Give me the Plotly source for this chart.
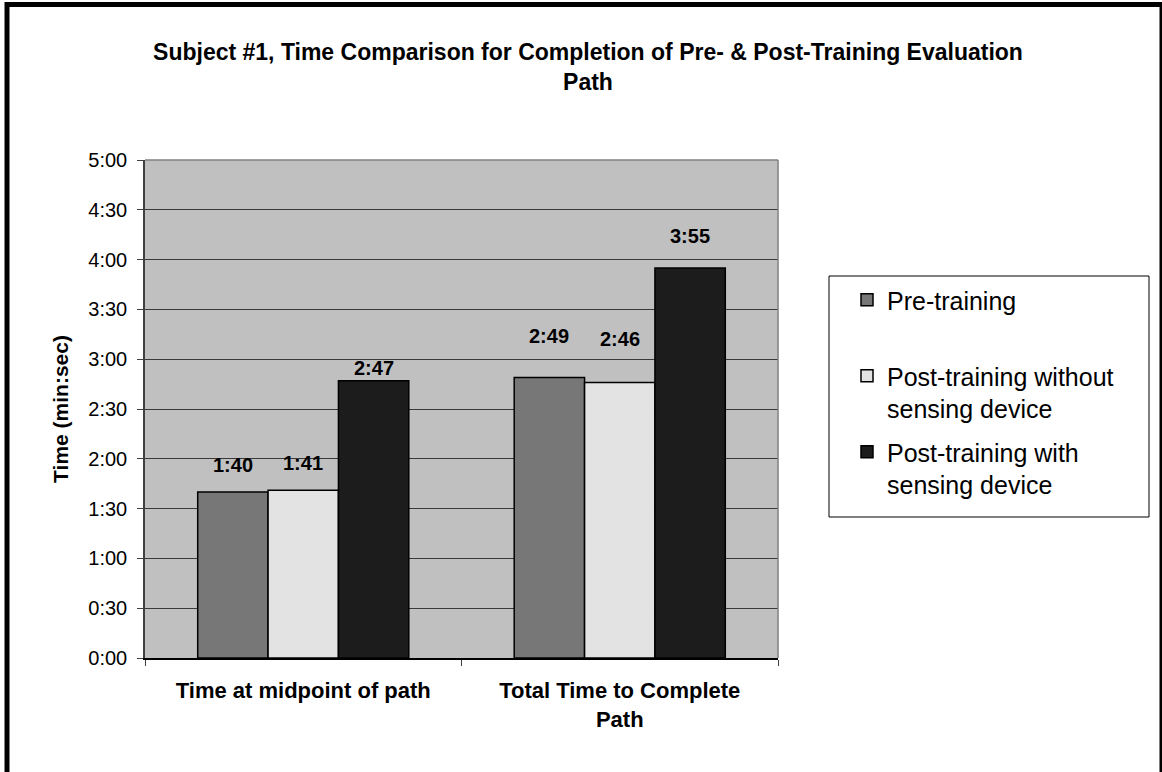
import plotly.graph_objects as go

# ---------------- data ----------------
CATEGORIES = ["Time at midpoint of path", "Total Time to Complete<br>Path"]
SERIES = ["Pre-training", "Post-training without sensing device", "Post-training with sensing device"]
LEGEND_TEXT = ["Pre-training<br> ", "Post-training without<br>sensing device", "Post-training with<br>sensing device"]
PRE_TRAINING = [100, 169]            # seconds (1:40, 2:49)
POST_WITHOUT = [101, 166]            # seconds (1:41, 2:46)
POST_WITH = [167, 235]               # seconds (2:47, 3:55)
Y_TICKS = list(range(0, 301, 30))
TITLE = "Subject #1, Time Comparison for Completion of Pre- & Post-Training Evaluation<br>Path"
Y_TITLE = "Time (min:sec)"

# ---------------- style ----------------
COLORS = ["#777777", "#E3E3E3", "#1C1C1C"]
LABEL_LIFT_PX = [[27, 41], [27, 43], [13, 32]]   # label centre above bar top, px
W, H = 1162, 772
ML, MR, MT, MB = 145, 384, 160, 114
BARGAP = 0.333
FONT = "Arial, Liberation Sans, sans-serif"


def fmt(sec):
    return f"{sec // 60}:{sec % 60:02d}"


def px2x(px):
    return (px - ML) / (W - ML - MR)


def py2y(py):
    return (H - MB - py) / (H - MT - MB)


values = [PRE_TRAINING, POST_WITHOUT, POST_WITH]

fig = go.Figure()
for k, (name, ltxt, vals, col) in enumerate(zip(SERIES, LEGEND_TEXT, values, COLORS)):
    fig.add_trace(go.Bar(
        x=CATEGORIES, y=vals, name=ltxt, legendgroup=f"g{k}",
        marker=dict(color=col, line=dict(color="#000000", width=1.5)),
        hoverinfo="skip",
    ))

# data labels
bw = (1 - BARGAP) / len(SERIES)
annotations = []
for k, vals in enumerate(values):
    for i, v in enumerate(vals):
        annotations.append(dict(
            x=i + (k - (len(SERIES) - 1) / 2) * bw, y=v, xref="x", yref="y",
            text=fmt(v), showarrow=False, yanchor="middle",
            yshift=LABEL_LIFT_PX[k][i],
            font=dict(family=FONT, size=20, color="#000000", weight="bold"),
        ))

shapes = [
    # plot-area top and right border (gray)
    dict(type="line", xref="paper", yref="paper", x0=0, x1=1, y0=1, y1=1,
         line=dict(color="#808080", width=1.5), layer="above"),
    dict(type="line", xref="paper", yref="paper", x0=1, x1=1, y0=0, y1=1,
         line=dict(color="#808080", width=1.5), layer="above"),
    # legend box
    dict(type="rect", xref="paper", yref="paper",
         x0=px2x(829), x1=px2x(1149), y0=py2y(517), y1=py2y(276),
         line=dict(color="#000000", width=1), fillcolor="rgba(0,0,0,0)"),
    # outer chart border
    dict(type="rect", xref="paper", yref="paper",
         x0=px2x(7), x1=px2x(1162), y0=py2y(800), y1=py2y(4.5),
         line=dict(color="#000000", width=5), fillcolor="rgba(0,0,0,0)"),
]

fig.update_layout(
    width=W, height=H,
    margin=dict(l=ML, r=MR, t=MT, b=MB, autoexpand=False),
    paper_bgcolor="#FFFFFF", plot_bgcolor="#C0C0C0",
    barmode="group", bargap=BARGAP, bargroupgap=0,
    font=dict(family=FONT, color="#000000"),
    title=dict(text=TITLE, xref="container", yref="container",
               x=588 / W, xanchor="center", y=1 - 60 / H, yanchor="top",
               font=dict(family=FONT, size=23, weight="bold", color="#000000")),
    showlegend=True,
    legend=dict(x=px2x(847), xanchor="left", y=py2y(277), yanchor="top",
                xref="paper", yref="paper",
                font=dict(family=FONT, size=25, color="#000000"),
                bgcolor="rgba(0,0,0,0)", borderwidth=0,
                valign="top", traceorder="grouped", tracegroupgap=8,
                itemclick=False, itemdoubleclick=False),
    annotations=annotations,
    shapes=shapes,
)

fig.update_yaxes(
    range=[0, 300], tickmode="array", tickvals=Y_TICKS,
    ticktext=[fmt(v) for v in Y_TICKS],
    showgrid=True, gridcolor="#3A3A3A", gridwidth=1.2, zeroline=False,
    showline=True, linecolor="#404040", linewidth=1.5,
    ticks="outside", ticklen=6, tickcolor="#404040", tickwidth=1.2,
    ticklabelstandoff=6,
    tickfont=dict(family=FONT, size=20, color="#000000"),
    title=dict(text=Y_TITLE, standoff=14,
               font=dict(family=FONT, size=21, weight="bold", color="#000000")),
    fixedrange=True,
)
fig.update_xaxes(
    type="category", showgrid=False, zeroline=False,
    showline=True, linecolor="#000000", linewidth=2,
    ticks="outside", ticklen=6, tickcolor="#404040", tickwidth=1.2,
    tickson="boundaries", ticklabelstandoff=12,
    tickfont=dict(family=FONT, size=22, weight="bold", color="#000000"),
    fixedrange=True,
)

fig.write_html("out.html", config={"displayModeBar": False},
               post_script="document.body.style.margin='0';")
